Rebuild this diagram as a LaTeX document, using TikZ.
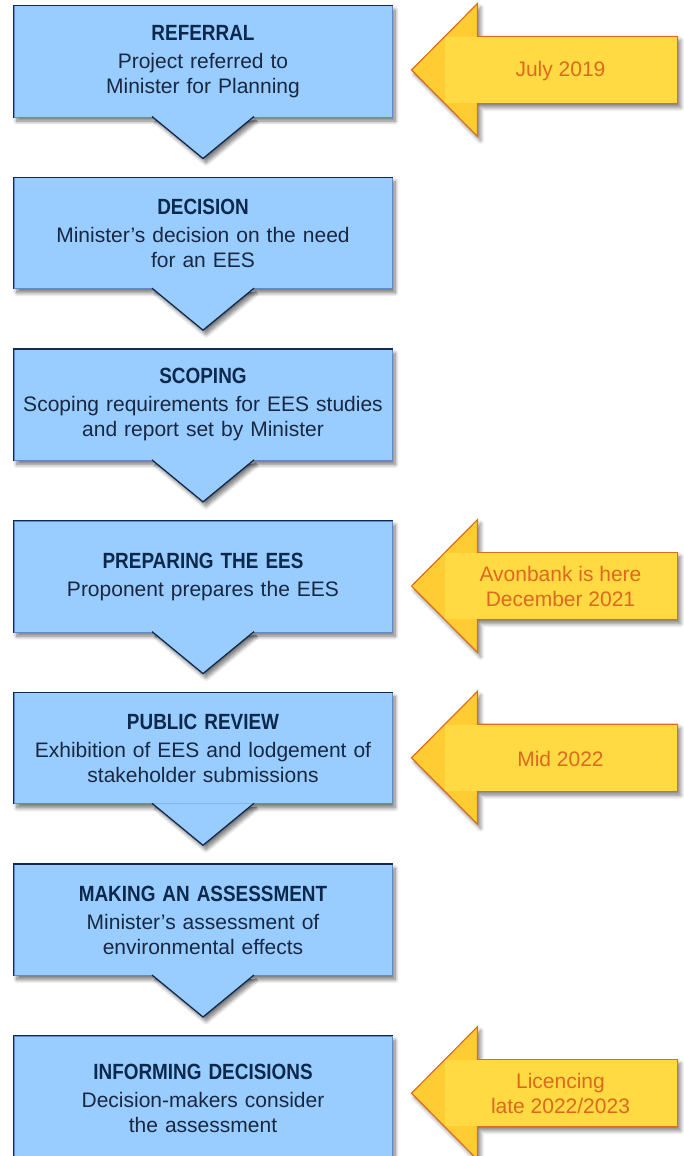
\documentclass[tikz,border=0pt]{standalone}
\usepackage{fontspec}
\setmainfont{Liberation Sans}
\newfontfamily\titlefont[FakeStretch=0.86]{Liberation Sans}
\usepackage{xcolor}
\definecolor{step_fill}{RGB}{153,204,255}
\definecolor{step_line}{RGB}{18,42,80}
\definecolor{step_edge}{RGB}{92,140,205}
\definecolor{title_text}{RGB}{12,40,75}
\definecolor{body_text}{RGB}{25,40,65}
\definecolor{date_fill}{RGB}{255,218,66}
\definecolor{date_head}{RGB}{255,204,52}
\definecolor{date_line}{RGB}{224,108,30}
\definecolor{date_text}{RGB}{222,104,32}
\usepackage{tikz}
\usetikzlibrary{positioning, calc, shadows.blur}
\tikzstyle{stepbox} = [
    rectangle, minimum width=378pt, minimum height=111pt,
    inner sep=0pt, text width=370pt, align=center,
    fill=step_fill, draw=step_edge, line width=1pt,
    text=body_text, font=\fontsize{21}{25}\selectfont,
    blur shadow={shadow xshift=3pt, shadow yshift=-4pt, shadow blur radius=4pt, shadow blur steps=8, shadow opacity=55},
]
\tikzstyle{pointer} = [
    fill=step_fill, draw=step_line, line width=1.3pt, line join=miter,
    blur shadow={shadow xshift=3pt, shadow yshift=-4pt, shadow blur radius=4pt, shadow blur steps=8, shadow opacity=55},
]
\tikzstyle{edge} = [step_line, line width=1.3pt]
\tikzstyle{datearrow} = [
    fill=date_head, draw=date_line, line width=1.2pt, line join=miter,
    blur shadow={shadow xshift=3pt, shadow yshift=-4pt, shadow blur radius=4pt, shadow blur steps=8, shadow opacity=50},
]
\tikzstyle{dateshaft} = [fill=date_fill]
\tikzstyle{datetext} = [text=date_text, align=center, font=\fontsize{21}{25}\selectfont]
\newcommand{\steptitle}[1]{{\titlefont\bfseries\fontsize{22}{26}\selectfont\color{title_text}#1}\\[3pt]}

\begin{document}
\begin{tikzpicture}[x=1pt, y=1pt]
    \useasboundingbox (0,0) rectangle (684,-1156);

    % steps of the process
    \node[stepbox] (referral) at (203,-61.5) {\steptitle{REFERRAL}Project referred to\\Minister for Planning};
    \node[stepbox] (decision) [below=59.7pt of referral] {\steptitle{DECISION}Minister’s decision on the need\\for an EES};
    \node[stepbox] (scoping) [below=59.7pt of decision] {\steptitle{SCOPING}Scoping requirements for EES studies\\and report set by Minister};
    \node[stepbox] (preparing) [below=59.7pt of scoping] {\steptitle{PREPARING THE EES}Proponent prepares the EES};
    \node[stepbox] (review) [below=59.7pt of preparing] {\steptitle{PUBLIC REVIEW}Exhibition of EES and lodgement of\\stakeholder submissions};
    \node[stepbox] (assessment) [below=59.7pt of review] {\steptitle{MAKING AN ASSESSMENT}Minister’s assessment of\\environmental effects};
    \node[stepbox, minimum height=124pt] (informing) [below=59.7pt of assessment] {\steptitle{INFORMING DECISIONS}Decision-makers consider\\the assessment};

    % dark top and left edges, pointers below the boxes
    \draw[edge] (referral.south west) |- (referral.north east);
    \draw[pointer] ($(referral.south)+(-51,1)$) -- ($(referral.south)+(0,-41)$) -- ($(referral.south)+(51,1)$);
    \draw[edge] (decision.south west) |- (decision.north east);
    \draw[pointer] ($(decision.south)+(-51,1)$) -- ($(decision.south)+(0,-41)$) -- ($(decision.south)+(51,1)$);
    \draw[edge] (scoping.south west) |- (scoping.north east);
    \draw[pointer] ($(scoping.south)+(-51,1)$) -- ($(scoping.south)+(0,-41)$) -- ($(scoping.south)+(51,1)$);
    \draw[edge] (preparing.south west) |- (preparing.north east);
    \draw[pointer] ($(preparing.south)+(-51,1)$) -- ($(preparing.south)+(0,-41)$) -- ($(preparing.south)+(51,1)$);
    \draw[edge] (review.south west) |- (review.north east);
    \draw[pointer] ($(review.south)+(-51,1)$) -- ($(review.south)+(0,-41)$) -- ($(review.south)+(51,1)$);
    \draw[edge] (assessment.south west) |- (assessment.north east);
    \draw[pointer] ($(assessment.south)+(-51,1)$) -- ($(assessment.south)+(0,-41)$) -- ($(assessment.south)+(51,1)$);
    \draw[edge] (informing.south west) |- (informing.north east);

    % date arrows
    \coordinate (tip_referral) at ($(referral.east)+(19,-8.5)$);
    \coordinate (tip_preparing) at ($(preparing.east)+(19,-9.5)$);
    \coordinate (tip_review) at ($(review.east)+(19,-9.5)$);
    \coordinate (tip_informing) at ($(informing.east)+(19,5)$);

    \draw[datearrow] (tip_referral) -- ++(66,66.5) -- ++(0,-33) -- ++(200,0) -- ++(0,-67) -- ++(-200,0) -- ++(0,-33) -- cycle;
    \fill[dateshaft] ($(tip_referral)+(33,32.9)$) rectangle ($(tip_referral)+(265.4,-32.9)$);
    \node[datetext] (date_referral) at ($(tip_referral)+(149,-1)$) {July 2019};

    \draw[datearrow] (tip_preparing) -- ++(66,66.5) -- ++(0,-33) -- ++(200,0) -- ++(0,-67) -- ++(-200,0) -- ++(0,-33) -- cycle;
    \fill[dateshaft] ($(tip_preparing)+(33,32.9)$) rectangle ($(tip_preparing)+(265.4,-32.9)$);
    \node[datetext] (date_preparing) at ($(tip_preparing)+(149,0)$) {Avonbank is here\\December 2021};

    \draw[datearrow] (tip_review) -- ++(66,66.5) -- ++(0,-33) -- ++(200,0) -- ++(0,-67) -- ++(-200,0) -- ++(0,-33) -- cycle;
    \fill[dateshaft] ($(tip_review)+(33,32.9)$) rectangle ($(tip_review)+(265.4,-32.9)$);
    \node[datetext] (date_review) at ($(tip_review)+(149,-1)$) {Mid 2022};

    \draw[datearrow] (tip_informing) -- ++(66,66.5) -- ++(0,-33) -- ++(200,0) -- ++(0,-67) -- ++(-200,0) -- ++(0,-33) -- cycle;
    \fill[dateshaft] ($(tip_informing)+(33,32.9)$) rectangle ($(tip_informing)+(265.4,-32.9)$);
    \node[datetext] (date_informing) at ($(tip_informing)+(149,0)$) {Licencing\\late 2022/2023};
\end{tikzpicture}
\end{document}
